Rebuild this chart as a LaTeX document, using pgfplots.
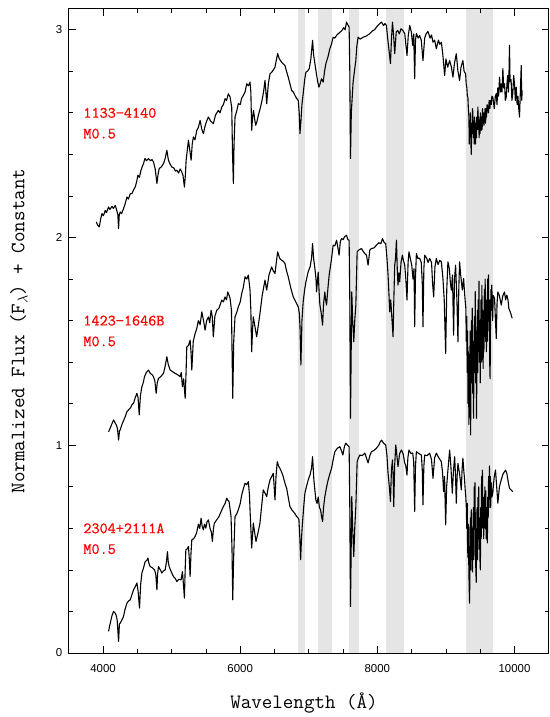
\documentclass[border=0pt]{standalone}
\usepackage{fontspec}
\setmainfont{Liberation Sans}
\newfontface\redtt[FakeBold=0.7]{Latin Modern Mono}
\usepackage{pgfplots}
\usepackage{pgfplotstable}
\pgfplotsset{compat=1.18}

% top spectrum: 1133-4140
\pgfplotstableread{
lam f
3901 2.075
3920 2.060
3945 2.051
3965 2.090
3984 2.115
4005 2.105
4032 2.131
4050 2.120
4080 2.147
4100 2.135
4130 2.150
4150 2.140
4178 2.155
4200 2.130
4215 2.110
4226 2.043
4236 2.110
4250 2.123
4270 2.115
4298 2.139
4320 2.160
4348 2.195
4370 2.185
4395 2.210
4421 2.212
4445 2.230
4469 2.243
4490 2.270
4508 2.300
4530 2.290
4550 2.320
4570 2.340
4590 2.356
4610 2.380
4635 2.370
4662 2.380
4690 2.370
4715 2.375
4735 2.363
4760 2.330
4785 2.260
4800 2.300
4818 2.332
4850 2.340
4881 2.356
4905 2.380
4930 2.420
4953 2.372
4975 2.355
5003 2.339
5030 2.335
5055 2.320
5076 2.324
5100 2.310
5125 2.330
5148 2.315
5165 2.300
5186 2.243
5200 2.300
5211 2.372
5228 2.420
5245 2.468
5265 2.420
5284 2.372
5300 2.450
5317 2.484
5340 2.470
5367 2.516
5390 2.530
5415 2.564
5440 2.520
5463 2.500
5490 2.540
5510 2.560
5536 2.580
5570 2.560
5608 2.548
5640 2.590
5681 2.612
5705 2.600
5731 2.628
5755 2.640
5779 2.668
5800 2.660
5827 2.692
5852 2.676
5876 2.628
5888 2.400
5900 2.260
5910 2.450
5924 2.580
5950 2.610
5972 2.644
6000 2.640
6020 2.670
6045 2.684
6070 2.700
6095 2.740
6120 2.730
6143 2.748
6155 2.700
6167 2.516
6180 2.580
6194 2.612
6210 2.570
6226 2.540
6245 2.560
6264 2.588
6290 2.620
6313 2.652
6340 2.700
6361 2.756
6375 2.700
6386 2.644
6410 2.740
6434 2.788
6470 2.800
6507 2.820
6530 2.860
6546 2.885
6570 2.860
6604 2.844
6630 2.835
6652 2.828
6675 2.800
6700 2.772
6725 2.740
6750 2.708
6775 2.700
6798 2.684
6820 2.670
6846 2.660
6860 2.600
6871 2.500
6885 2.560
6900 2.640
6918 2.692
6940 2.760
6958 2.796
6980 2.800
7006 2.813
7030 2.860
7055 2.949
7070 2.880
7089 2.837
7110 2.790
7130 2.750
7147 2.724
7165 2.740
7186 2.764
7210 2.748
7230 2.800
7249 2.837
7280 2.870
7307 2.909
7330 2.930
7355 2.964
7380 2.960
7410 2.975
7453 2.988
7480 2.995
7510 3.010
7530 3.000
7550 3.037
7575 3.020
7588 3.013
7598 2.800
7608 2.380
7620 2.600
7646 2.748
7665 2.800
7686 2.852
7700 2.920
7719 2.964
7750 2.955
7792 2.964
7840 2.970
7889 2.981
7930 2.995
7960 3.000
7987 3.013
8020 3.025
8060 3.037
8090 3.020
8110 3.030
8132 3.021
8150 2.960
8170 2.901
8191 2.837
8205 2.950
8220 3.037
8235 2.980
8253 2.885
8275 2.990
8297 2.996
8320 2.980
8345 3.005
8374 2.996
8400 2.980
8432 2.876
8450 2.970
8472 3.021
8495 2.990
8515 2.925
8530 2.980
8544 2.764
8556 2.950
8569 2.982
8595 2.960
8617 2.972
8640 2.950
8665 2.852
8690 2.960
8710 2.980
8738 2.992
8770 2.960
8790 2.975
8811 2.940
8835 2.950
8860 2.909
8890 2.950
8910 2.930
8933 2.940
8955 2.880
8981 2.780
9000 2.860
9025 2.820
9054 2.852
9080 2.820
9102 2.772
9125 2.840
9151 2.885
9175 2.800
9199 2.756
9220 2.820
9247 2.852
9265 2.800
9287 2.788
9295 2.740
9305 2.720
9312 2.680
9320 2.676
9327 2.620
9335 2.580
9340 2.450
9345 2.560
9352 2.500
9357 2.600
9364 2.450
9370 2.400
9376 2.550
9382 2.500
9388 2.620
9393 2.596
9400 2.480
9406 2.550
9412 2.450
9418 2.580
9425 2.500
9432 2.450
9438 2.550
9445 2.480
9450 2.580
9458 2.520
9466 2.628
9472 2.520
9478 2.580
9484 2.480
9490 2.550
9497 2.500
9503 2.600
9509 2.530
9515 2.516
9522 2.580
9528 2.520
9534 2.620
9540 2.550
9548 2.600
9555 2.540
9563 2.580
9570 2.620
9578 2.550
9585 2.620
9592 2.580
9600 2.640
9611 2.628
9620 2.600
9630 2.660
9640 2.620
9650 2.660
9660 2.640
9670 2.680
9684 2.676
9705 2.620
9720 2.680
9733 2.692
9745 2.640
9755 2.720
9768 2.680
9782 2.772
9795 2.700
9805 2.740
9818 2.700
9830 2.813
9842 2.720
9855 2.740
9866 2.660
9879 2.676
9890 2.740
9900 2.780
9912 2.700
9920 2.800
9927 2.925
9935 2.750
9950 2.760
9962 2.660
9975 2.692
9988 2.780
10000 2.740
10012 2.660
10025 2.724
10038 2.640
10050 2.680
10062 2.620
10073 2.580
10085 2.700
10098 2.828
10105 2.660
10112 2.708
}\specA

% middle spectrum: 1423-1646B
\pgfplotstableread{
lam f
4080 1.065
4100 1.080
4125 1.100
4153 1.122
4172 1.110
4192 1.098
4210 1.080
4226 1.025
4240 1.070
4250 1.074
4275 1.100
4300 1.120
4323 1.138
4345 1.160
4371 1.170
4400 1.180
4420 1.195
4444 1.202
4470 1.230
4493 1.250
4510 1.230
4527 1.146
4545 1.240
4566 1.282
4585 1.300
4604 1.330
4630 1.350
4662 1.362
4690 1.345
4715 1.340
4735 1.330
4755 1.310
4774 1.250
4790 1.300
4808 1.322
4840 1.330
4881 1.346
4905 1.380
4930 1.426
4950 1.390
4978 1.362
5010 1.355
5051 1.346
5085 1.340
5124 1.330
5140 1.350
5157 1.282
5175 1.320
5197 1.226
5210 1.350
5221 1.474
5245 1.480
5269 1.506
5282 1.450
5294 1.362
5315 1.500
5342 1.538
5365 1.560
5390 1.600
5415 1.580
5440 1.642
5465 1.600
5488 1.554
5510 1.600
5536 1.618
5555 1.590
5575 1.650
5592 1.620
5608 1.522
5630 1.620
5658 1.650
5690 1.660
5731 1.699
5755 1.690
5779 1.714
5800 1.700
5818 1.738
5840 1.720
5852 1.707
5872 1.650
5891 1.226
5905 1.500
5924 1.618
5950 1.640
5972 1.666
6000 1.690
6022 1.731
6045 1.760
6070 1.811
6095 1.800
6118 1.819
6143 1.747
6155 1.650
6167 1.450
6180 1.560
6191 1.618
6215 1.570
6240 1.522
6265 1.580
6288 1.635
6320 1.720
6361 1.795
6386 1.747
6420 1.820
6458 1.859
6480 1.840
6507 1.827
6530 1.890
6546 1.931
6575 1.900
6604 1.891
6630 1.885
6652 1.875
6675 1.840
6700 1.811
6735 1.760
6773 1.714
6810 1.690
6846 1.666
6860 1.640
6871 1.578
6885 1.386
6900 1.600
6918 1.690
6940 1.750
6958 1.787
6991 1.835
7020 1.860
7040 1.900
7055 1.971
7070 1.900
7089 1.851
7105 1.800
7113 1.738
7137 1.833
7150 1.740
7162 1.675
7180 1.640
7201 1.578
7215 1.680
7234 1.738
7245 1.700
7259 1.675
7280 1.760
7297 1.819
7315 1.860
7332 1.899
7355 1.963
7380 1.960
7405 1.987
7425 1.950
7442 1.915
7460 1.980
7477 1.995
7500 1.990
7525 2.005
7550 2.011
7570 1.990
7588 1.987
7598 1.700
7608 1.130
7618 1.450
7627 1.738
7640 1.600
7656 1.498
7670 1.600
7686 1.675
7705 1.931
7730 1.940
7768 1.947
7800 1.930
7825 1.920
7841 1.915
7865 1.867
7890 1.940
7914 1.947
7950 1.950
7987 1.963
8020 1.975
8050 1.970
8074 1.995
8100 1.975
8122 1.971
8140 1.900
8156 1.819
8170 1.720
8180 1.642
8195 1.700
8210 1.620
8229 1.522
8240 1.700
8253 1.867
8265 1.900
8278 1.987
8290 1.850
8301 1.771
8315 1.830
8326 1.787
8345 1.880
8365 1.915
8380 1.890
8399 1.867
8415 1.800
8432 1.699
8448 1.880
8461 1.931
8480 1.900
8501 1.867
8520 1.800
8535 1.850
8544 1.570
8555 1.800
8569 1.923
8590 1.900
8617 1.900
8640 1.880
8655 1.780
8665 1.570
8678 1.850
8690 1.915
8720 1.900
8740 1.880
8763 1.899
8790 1.880
8805 1.780
8821 1.714
8840 1.860
8860 1.899
8885 1.870
8910 1.890
8933 1.883
8956 1.804
8975 1.700
8996 1.442
9012 1.750
9029 1.883
9050 1.850
9065 1.780
9079 1.747
9095 1.820
9112 1.530
9125 1.800
9141 1.867
9160 1.700
9175 1.498
9188 1.760
9199 1.883
9215 1.820
9239 1.747
9258 1.803
9270 1.740
9282 1.690
9290 1.660
9297 1.500
9303 1.620
9310 1.350
9316 1.550
9322 1.200
9328 1.450
9335 1.100
9341 1.400
9347 1.250
9353 1.550
9360 1.050
9366 1.450
9372 1.600
9378 1.300
9384 1.660
9390 1.250
9397 1.500
9403 1.130
9409 1.450
9415 1.620
9421 1.350
9428 1.740
9434 1.300
9440 1.550
9446 1.130
9452 1.400
9458 1.650
9464 1.350
9470 1.700
9476 1.450
9482 1.790
9488 1.400
9494 1.600
9500 1.300
9506 1.550
9512 1.700
9518 1.400
9524 1.770
9530 1.500
9536 1.650
9542 1.370
9548 1.600
9554 1.450
9560 1.750
9566 1.550
9572 1.800
9578 1.500
9584 1.700
9590 1.450
9596 1.650
9602 1.500
9608 1.800
9614 1.600
9620 1.820
9626 1.550
9632 1.700
9638 1.400
9644 1.320
9650 1.600
9656 1.750
9662 1.650
9668 1.770
9675 1.700
9681 1.600
9690 1.720
9709 1.707
9722 1.600
9734 1.514
9745 1.680
9757 1.738
9780 1.720
9806 1.675
9830 1.720
9854 1.738
9870 1.700
9888 1.723
9905 1.700
9917 1.659
9940 1.640
9966 1.611
}\specB

% bottom spectrum: 2304+2111A
\pgfplotstableread{
lam f
4080 0.104
4095 0.130
4105 0.144
4130 0.180
4153 0.200
4170 0.195
4188 0.184
4205 0.160
4226 0.056
4238 0.140
4250 0.144
4275 0.160
4298 0.176
4320 0.210
4348 0.240
4370 0.250
4396 0.256
4420 0.280
4444 0.304
4470 0.320
4493 0.337
4510 0.300
4531 0.216
4548 0.330
4566 0.385
4590 0.410
4614 0.440
4635 0.445
4654 0.457
4670 0.430
4687 0.416
4720 0.410
4750 0.400
4768 0.380
4785 0.304
4795 0.380
4808 0.416
4835 0.400
4857 0.385
4880 0.395
4905 0.400
4925 0.440
4939 0.488
4950 0.440
4964 0.416
4995 0.390
5026 0.368
5050 0.360
5076 0.344
5105 0.355
5138 0.352
5157 0.392
5172 0.330
5186 0.264
5197 0.400
5207 0.497
5225 0.500
5245 0.513
5258 0.450
5269 0.368
5282 0.480
5294 0.545
5320 0.550
5342 0.561
5365 0.580
5390 0.620
5410 0.600
5429 0.649
5445 0.610
5463 0.593
5480 0.620
5498 0.601
5515 0.630
5536 0.641
5560 0.600
5580 0.580
5594 0.537
5610 0.600
5623 0.625
5655 0.640
5691 0.657
5720 0.680
5754 0.705
5780 0.720
5803 0.745
5820 0.735
5837 0.729
5866 0.657
5880 0.500
5891 0.256
5903 0.450
5924 0.657
5950 0.670
5972 0.689
6000 0.720
6022 0.761
6045 0.790
6070 0.817
6095 0.810
6118 0.825
6135 0.760
6143 0.689
6155 0.600
6167 0.505
6180 0.570
6191 0.625
6210 0.580
6230 0.537
6260 0.580
6288 0.625
6310 0.700
6336 0.785
6360 0.770
6386 0.753
6410 0.800
6434 0.833
6460 0.850
6482 0.865
6495 0.800
6507 0.737
6522 0.850
6540 0.921
6560 0.900
6579 0.889
6605 0.870
6627 0.849
6650 0.820
6677 0.793
6700 0.750
6725 0.705
6750 0.690
6773 0.681
6800 0.670
6822 0.657
6845 0.650
6856 0.641
6870 0.550
6881 0.449
6892 0.540
6904 0.609
6925 0.700
6943 0.769
6965 0.800
6991 0.833
7020 0.860
7040 0.890
7055 0.945
7074 0.833
7090 0.780
7103 0.737
7120 0.720
7137 0.751
7155 0.700
7172 0.689
7185 0.660
7201 0.633
7215 0.700
7234 0.753
7260 0.800
7282 0.833
7305 0.860
7332 0.889
7355 0.930
7380 0.969
7415 0.985
7453 0.993
7475 0.975
7497 0.953
7520 0.995
7540 1.010
7565 1.000
7588 0.993
7598 0.700
7608 0.224
7618 0.500
7627 0.753
7640 0.600
7656 0.464
7670 0.600
7686 0.705
7705 0.921
7725 0.940
7744 0.953
7780 0.950
7817 0.962
7840 0.940
7865 0.915
7890 0.950
7914 0.969
7950 0.975
7987 0.986
8020 1.000
8040 1.015
8060 1.025
8090 1.010
8122 1.001
8140 0.950
8156 0.865
8175 0.800
8191 0.729
8205 0.880
8220 0.929
8230 0.850
8239 0.705
8252 0.900
8268 1.001
8285 0.950
8301 0.897
8325 0.960
8351 0.977
8375 0.960
8399 0.915
8415 0.900
8432 0.857
8445 0.940
8461 0.977
8490 0.960
8515 0.963
8530 0.920
8544 0.681
8556 0.900
8569 0.969
8605 0.960
8642 0.953
8655 0.880
8665 0.713
8678 0.900
8690 0.953
8725 0.950
8763 0.962
8790 0.930
8811 0.841
8835 0.940
8860 0.962
8895 0.940
8933 0.921
8950 0.870
8966 0.777
8980 0.850
8996 0.617
9010 0.800
9029 0.881
9054 0.977
9072 0.900
9093 0.769
9110 0.880
9127 0.945
9140 0.850
9151 0.721
9163 0.850
9175 0.913
9200 0.860
9224 0.785
9235 0.880
9247 0.938
9260 0.880
9272 0.833
9282 0.780
9290 0.750
9297 0.700
9303 0.600
9310 0.720
9316 0.500
9322 0.460
9328 0.620
9334 0.400
9340 0.300
9345 0.240
9351 0.500
9357 0.650
9363 0.400
9370 0.690
9376 0.450
9382 0.600
9388 0.390
9394 0.550
9400 0.700
9406 0.450
9412 0.800
9418 0.600
9424 0.820
9430 0.500
9436 0.400
9442 0.340
9448 0.550
9454 0.700
9460 0.450
9466 0.750
9472 0.550
9478 0.800
9484 0.500
9490 0.650
9496 0.450
9502 0.400
9508 0.700
9514 0.550
9520 0.850
9526 0.600
9532 0.880
9538 0.650
9544 0.750
9550 0.550
9556 0.700
9562 0.640
9568 0.800
9574 0.600
9580 0.780
9586 0.550
9592 0.700
9598 0.600
9604 0.530
9610 0.750
9616 0.650
9622 0.850
9628 0.700
9634 0.900
9640 0.780
9646 0.850
9652 0.700
9660 0.820
9670 0.750
9684 0.770
9690 0.800
9705 0.850
9723 0.881
9740 0.800
9757 0.721
9780 0.800
9806 0.833
9830 0.860
9854 0.873
9870 0.880
9888 0.865
9910 0.820
9927 0.793
9950 0.785
9975 0.777
}\specC

\definecolor{bandgray}{RGB}{229,229,229}

\begin{document}
\begin{tikzpicture}
\useasboundingbox (-68.8bp,-64bp) rectangle (481.2bp,653bp);
\begin{axis}[
    at={(0,0)}, anchor=south west,
    scale only axis,
    width=480bp, height=644bp,
    xmin=3500, xmax=10500,
    ymin=0, ymax=3.1,
    xtick={4000,6000,8000,10000},
    ytick={0,1,2,3},
    scaled x ticks=false,
    minor x tick num=3,
    minor y tick num=4,
    tick align=inside,
    major tick length=7bp,
    minor tick length=4bp,
    tick style={black, line width=0.8bp},
    axis line style={line width=1bp},
    /pgf/number format/1000 sep={},
    /pgf/number format/assume math mode=true,
    tick label style={font=\fontsize{11.5}{13}\selectfont},
    xticklabel style={yshift=-8bp},
    yticklabel style={xshift=-3bp},
    xlabel={\ttfamily Wavelength (Å)},
    ylabel={\ttfamily Normalized Flux (F$_{\lambda}$) + Constant},
    label style={font=\fontsize{20.5}{22}\selectfont},
    xlabel style={at={(axis description cs:0.49,-0.0776)}, anchor=center},
    ylabel style={at={(axis description cs:-0.104,0.5)}, anchor=center},
    axis on top,
    clip=true,
]
% telluric bands
\fill[bandgray] (axis cs:6840,0) rectangle (axis cs:6940,3.1);
\fill[bandgray] (axis cs:7140,0) rectangle (axis cs:7340,3.1);
\fill[bandgray] (axis cs:7590,0) rectangle (axis cs:7730,3.1);
\fill[bandgray] (axis cs:8130,0) rectangle (axis cs:8390,3.1);
\fill[bandgray] (axis cs:9290,0) rectangle (axis cs:9690,3.1);

\addplot[black, line width=1.1bp, line join=round] table[x=lam, y=f] {\specA};
\addplot[black, line width=1.1bp, line join=round] table[x=lam, y=f] {\specB};
\addplot[black, line width=1.1bp, line join=round] table[x=lam, y=f] {\specC};

\begin{scope}[every node/.style={anchor=west, text=red, inner sep=0pt, font=\redtt\fontsize{15.8}{16}\selectfont}]
\node at (axis cs:3710,2.6) {1133−4140};
\node at (axis cs:3710,2.5) {M0.5};
\node at (axis cs:3710,1.6) {1423−1646B};
\node at (axis cs:3710,1.5) {M0.5};
\node at (axis cs:3710,0.6) {2304+2111A};
\node at (axis cs:3710,0.5) {M0.5};
\end{scope}
\end{axis}
\end{tikzpicture}
\end{document}
